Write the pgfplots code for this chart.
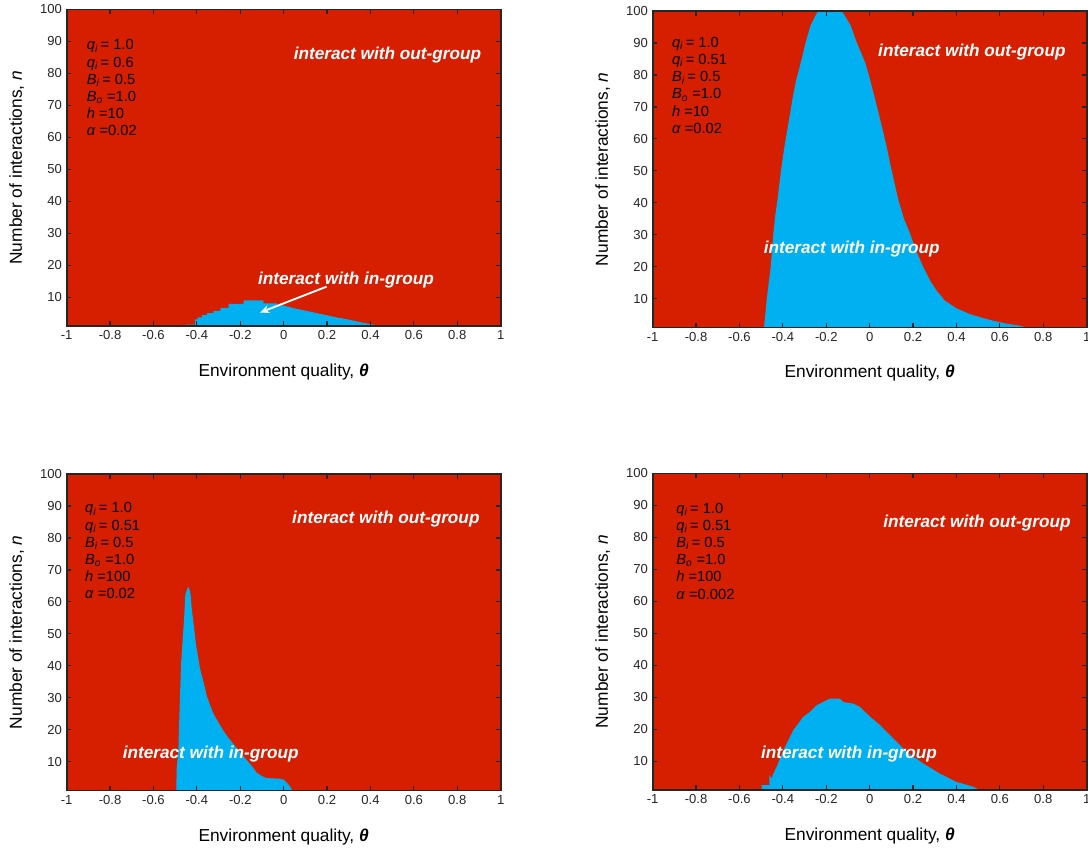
\documentclass[border=0pt]{standalone}
\usepackage{fontspec}
\setmainfont{Liberation Sans}
\usepackage{pgfplots}
\pgfplotsset{compat=1.18}
\usetikzlibrary{arrows.meta}
\definecolor{outred}{RGB}{214,31,0}
\definecolor{inblue}{RGB}{0,176,240}
\definecolor{axgray}{RGB}{38,38,38}

\newcommand{\sub}[2]{\textit{#1}\textsubscript{\textit{#2}}}
\newcommand{\annfont}{\fontsize{12.9}{15}\selectfont\bfseries\itshape}
\newcommand{\parfont}{\fontsize{11}{12.9}\selectfont}

\pgfplotsset{panel/.style={
  scale only axis, width=325.5pt, height=237.4pt,
  xmin=-1, xmax=1, ymin=1, ymax=100,
  axis background/.style={fill=outred},
  axis line style={axgray, line width=1.3pt},
  every tick/.style={axgray, line width=0.9pt},
  major tick length=3.5pt,
  tick align=inside,
  xtick={-1,-0.8,-0.6,-0.4,-0.2,0,0.2,0.4,0.6,0.8,1},
  xticklabels={-1,-0.8,-0.6,-0.4,-0.2,0,0.2,0.4,0.6,0.8,1},
  ytick={10,20,30,40,50,60,70,80,90,100},
  yticklabels={10,20,30,40,50,60,70,80,90,100},
  tick label style={font=\fontsize{9.8}{11}\selectfont, text=axgray},
  xlabel={Environment quality, \textbf{\textit{θ}}},
  ylabel={Number of interactions, \textit{n}},
  label style={font=\fontsize{13}{15}\selectfont},
  xlabel style={at={(axis description cs:0.5,0)}, anchor=center, yshift=-34.5pt},
  ylabel style={at={(axis description cs:-0.115,0.5)}, anchor=center},
  axis on top,
}}

\begin{document}
\begin{tikzpicture}
\useasboundingbox (0,0) rectangle (816pt,639pt);

% Panel 1 (top left)
\begin{axis}[panel, at={(50pt,631.9pt)}, anchor=north west]
\addplot[fill=inblue, draw=none] coordinates {
(-0.449,1)(-0.449,1.4)(-0.408,1.4)(-0.408,3.1)(-0.397,3.1)(-0.397,3.7)(-0.377,3.7)(-0.377,4.4)
(-0.354,4.4)(-0.354,5.0)(-0.323,5.0)(-0.323,5.7)(-0.292,5.7)(-0.292,6.7)(-0.254,6.7)(-0.254,7.9)
(-0.185,7.9)(-0.185,9.0)(-0.093,9.0)(-0.093,8.1)(-0.031,8.1)(-0.031,7.6)(0.0,7.4)(0.045,6.6)
(0.107,5.7)(0.168,4.8)(0.230,3.9)(0.291,3.1)(0.353,2.2)(0.414,1.4)(0.445,1)
} -- cycle;
\node[anchor=base west, inner sep=0, font=\parfont] at (axis description cs:0.046,0.872)
 {\begin{tabular}[t]{@{}l@{}}\sub{q}{i}\,= 1.0\\ \sub{q}{i}\,= 0.6\\ \sub{B}{i}\,= 0.5\\ \sub{B}{o} =1.0\\ \textit{h} =10\\ \textit{α} =0.02\end{tabular}};
\node[text=white, inner sep=0, font=\annfont] at (axis cs:0.478,85.8) {interact with out-group};
\node[text=white, inner sep=0, font=\annfont] at (axis cs:0.287,15.4) {interact with in-group};
\draw[white, line width=1.4pt, -{Stealth[length=7pt,width=6pt]}] (axis cs:0.198,13.3) -- (axis cs:-0.109,5.2);
\end{axis}

% Panel 2 (top right)
\begin{axis}[panel, at={(489.5pt,630.75pt)}, anchor=north west]
\addplot[fill=inblue, draw=none] coordinates {
(-0.487,1)(-0.481,5)(-0.475,9.4)(-0.465,15)(-0.456,19.9)(-0.450,25)(-0.444,30.4)(-0.435,36)
(-0.425,40.9)(-0.416,46)(-0.406,51.4)(-0.394,57)(-0.382,61.9)(-0.369,67)(-0.356,72.4)(-0.340,78)
(-0.321,82.9)(-0.308,86.5)(-0.295,90.2)(-0.272,95.5)(-0.250,98.5)(-0.237,100)(-0.129,100)
(-0.110,98)(-0.088,95.5)(-0.060,90.2)(-0.040,87)(-0.021,83.9)(0.0,79)(0.025,72.4)(0.045,67)
(0.063,61.9)(0.080,57)(0.097,51.4)(0.115,46)(0.132,40.9)(0.158,35)(0.186,30.4)(0.214,25)
(0.247,19.9)(0.280,15.5)(0.309,12.5)(0.347,9.4)(0.40,7)(0.462,5.2)(0.520,4)(0.570,3.1)
(0.640,2.1)(0.700,1.5)(0.720,1)
} -- cycle;
\node[anchor=base west, inner sep=0, font=\parfont] at (axis description cs:0.044,0.885)
 {\begin{tabular}[t]{@{}l@{}}\sub{q}{i}\,= 1.0\\ \sub{q}{i}\,= 0.51\\ \sub{B}{i}\,= 0.5\\ \sub{B}{o} =1.0\\ \textit{h} =10\\ \textit{α} =0.02\end{tabular}};
\node[text=white, inner sep=0, font=\annfont] at (axis cs:0.471,87.0) {interact with out-group};
\node[text=white, inner sep=0, font=\annfont] at (axis cs:-0.083,25.4) {interact with in-group};
\end{axis}

% Panel 3 (bottom left)
\begin{axis}[panel, at={(50pt,283.5pt)}, anchor=north west]
\addplot[fill=inblue, draw=none] coordinates {
(-0.495,1)(-0.493,7.7)(-0.485,14)(-0.481,23.5)(-0.473,40.3)(-0.465,48.7)(-0.459,54.5)(-0.453,62.4)
(-0.442,64.5)(-0.436,64.5)(-0.429,62.4)(-0.424,58.2)(-0.413,51.9)(-0.404,46.6)(-0.386,39.3)
(-0.370,35.1)(-0.355,30.8)(-0.339,27.7)(-0.324,25.1)(-0.293,21.4)(-0.263,18.2)(-0.232,15.6)
(-0.194,12.4)(-0.147,8.7)(-0.124,6.6)(-0.100,5.5)(-0.078,4.9)(-0.017,4.7)(0.0,4.4)(0.014,3.5)
(0.030,2.2)(0.040,1)
} -- cycle;
\node[anchor=base west, inner sep=0, font=\parfont] at (axis description cs:0.042,0.877)
 {\begin{tabular}[t]{@{}l@{}}\sub{q}{i}\,= 1.0\\ \sub{q}{i}\,= 0.51\\ \sub{B}{i}\,= 0.5\\ \sub{B}{o} =1.0\\ \textit{h} =100\\ \textit{α} =0.02\end{tabular}};
\node[text=white, inner sep=0, font=\annfont] at (axis cs:0.471,85.8) {interact with out-group};
\node[text=white, inner sep=0, font=\annfont] at (axis cs:-0.336,12.4) {interact with in-group};
\end{axis}

% Panel 4 (bottom right)
\begin{axis}[panel, at={(489.5pt,283.9pt)}, anchor=north west]
\addplot[fill=inblue, draw=none] coordinates {
(-0.570,1)(-0.570,1.3)(-0.498,1.3)(-0.498,2.5)(-0.462,2.5)(-0.462,5.6)(-0.452,4.6)(-0.444,6.1)
(-0.429,8.2)(-0.398,13.4)(-0.352,19.7)(-0.306,23.9)(-0.275,25.4)(-0.244,27.5)(-0.183,29.6)
(-0.137,29.6)(-0.121,28.5)(-0.075,28)(-0.045,27)(0.002,23.9)(0.048,21.3)(0.109,17.1)
(0.171,12.9)(0.247,9.3)(0.324,6.1)(0.401,3.5)(0.478,2.0)(0.508,1)
} -- cycle;
\node[anchor=base west, inner sep=0, font=\parfont] at (axis description cs:0.054,0.875)
 {\begin{tabular}[t]{@{}l@{}}\sub{q}{i}\,= 1.0\\ \sub{q}{i}\,= 0.51\\ \sub{B}{i}\,= 0.5\\ \sub{B}{o} =1.0\\ \textit{h} =100\\ \textit{α} =0.002\end{tabular}};
\node[text=white, inner sep=0, font=\annfont] at (axis cs:0.4945,84.6) {interact with out-group};
\node[text=white, inner sep=0, font=\annfont] at (axis cs:-0.095,12.2) {interact with in-group};
\end{axis}
\end{tikzpicture}
\end{document}
